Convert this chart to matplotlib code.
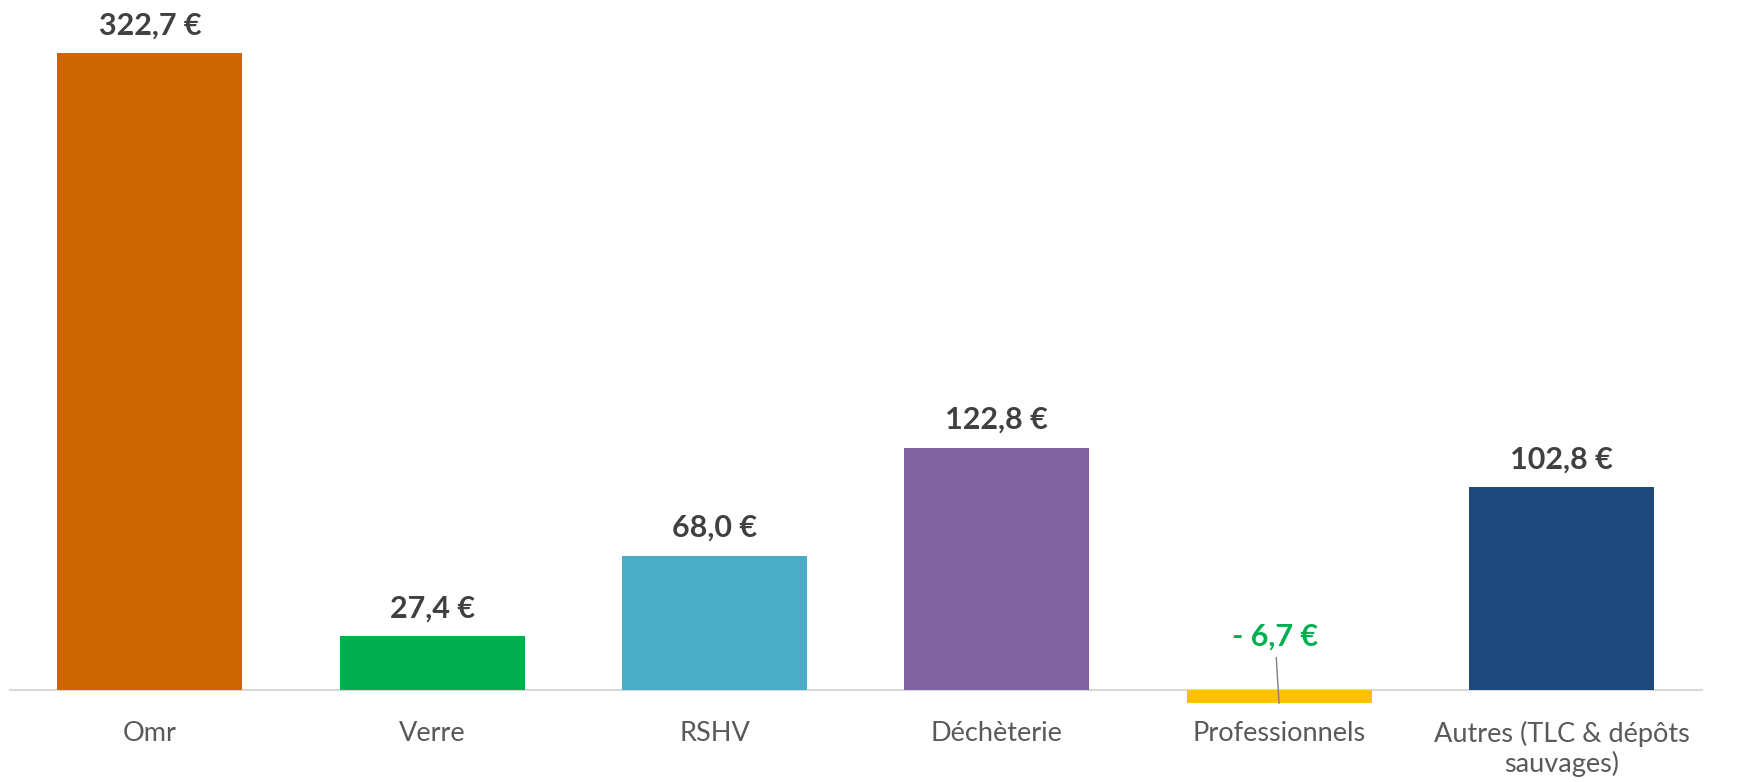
import matplotlib
matplotlib.use("Agg")
import matplotlib.pyplot as plt

categories = ["Omr", "Verre", "RSHV", "Déchèterie", "Professionnels",
              "Autres (TLC & dépôts\nsauvages)"]
values = [322.7, 27.4, 68.0, 122.8, -6.7, 102.8]
labels = ["322,7 €", "27,4 €", "68,0 €", "122,8 €", "- 6,7 €", "102,8 €"]
colors = ["#CC6600", "#00B050", "#4BACC6", "#8064A2", "#FFC000", "#1F497D"]

plt.rcParams['font.family'] = ['Lato', 'DejaVu Sans']

fig = plt.figure(figsize=(17.48, 7.82), dpi=100)
ax = fig.add_axes([0.005, 0.092, 0.969, 0.882])

x = list(range(len(categories)))
ax.bar(x, values, width=0.656, color=colors, zorder=2)
ax.axhline(0, color="#d9d9d9", lw=1.5, zorder=1)

for i, (v, lab) in enumerate(zip(values, labels)):
    if v >= 0:
        ax.annotate(lab, (i, v), xytext=(0, 10), textcoords="offset points",
                    ha="center", va="bottom", fontsize=22, fontweight="bold",
                    color="#404040")
    else:
        # negative bar: label sits above the axis with a leader line
        ax.annotate(lab, (i, v), xytext=(-3, 38), textcoords="offset points",
                    ha="center", va="bottom", fontsize=22, fontweight="bold",
                    color="#00B050",
                    arrowprops=dict(arrowstyle="-", color="#7f7f7f", lw=1,
                                    shrinkA=3, shrinkB=0))

ax.set_xlim(-0.5, len(categories) - 0.5)
ax.set_ylim(-10.1, 339.4)
ax.set_xticks(x)
ax.set_xticklabels(categories, fontsize=19.5, color="#595959",
                   linespacing=1.15)
ax.tick_params(axis="x", length=0, pad=8)
ax.set_yticks([])
for s in ax.spines.values():
    s.set_visible(False)

fig.savefig("out.png", dpi=100)
